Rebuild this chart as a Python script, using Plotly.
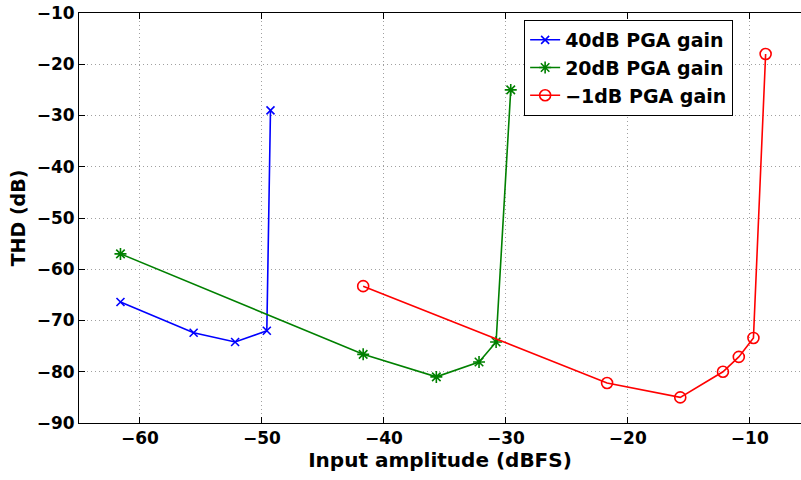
import plotly.graph_objects as go

# THD versus input amplitude for three PGA gain settings
amp_40db = [-61.6, -55.6, -52.2, -49.6, -49.3]
thd_40db = [-66.4, -72.4, -74.2, -72.0, -29.0]

amp_20db = [-61.6, -41.7, -35.7, -32.2, -30.8, -29.6]
thd_20db = [-57.0, -76.6, -81.0, -78.1, -74.2, -25.0]

amp_m1db = [-41.7, -21.7, -15.7, -12.2, -10.9, -9.7, -8.7]
thd_m1db = [-63.3, -82.2, -85.0, -80.0, -77.1, -73.4, -18.0]

x_ticks = [-60, -50, -40, -30, -20, -10]
y_ticks = [-90, -80, -70, -60, -50, -40, -30, -20, -10]

FONT = "DejaVu Sans"

fig = go.Figure()
fig.add_trace(go.Scatter(
    x=amp_40db, y=thd_40db, mode="lines+markers", name="40dB PGA gain",
    legendgroup="a",
    line=dict(color="#0000ff", width=1.6),
    marker=dict(symbol="x-thin-open", size=8, line=dict(color="#0000ff", width=1.6)),
))
fig.add_trace(go.Scatter(
    x=amp_20db, y=thd_20db, mode="lines+markers", name="20dB PGA gain",
    legendgroup="b",
    line=dict(color="#008000", width=1.6),
    marker=dict(symbol="asterisk-open", size=10, line=dict(color="#008000", width=1.6)),
))
fig.add_trace(go.Scatter(
    x=amp_m1db, y=thd_m1db, mode="lines+markers", name="\u22121dB PGA gain",
    legendgroup="c",
    line=dict(color="#ff0000", width=1.6),
    marker=dict(symbol="circle-open", size=11, color="#ff0000", line=dict(color="#ff0000", width=1.6)),
))

axis_common = dict(
    showline=True, linecolor="black", linewidth=1,
    ticks="inside", ticklen=6, tickcolor="black", tickwidth=1,
    showgrid=True, gridcolor="#a0a0a0", gridwidth=1, griddash="1px,3px",
    zeroline=False,
    tickfont=dict(family=FONT, size=17, color="black", weight="bold"),
)

fig.update_layout(
    width=801, height=480,
    margin=dict(l=79, r=0, t=13, b=57),
    paper_bgcolor="white", plot_bgcolor="white",
    font=dict(family=FONT, color="black"),
    xaxis=dict(
        range=[-65, -5.8], tickvals=x_ticks, mirror="ticks",
        title=dict(text="Input amplitude (dBFS)", standoff=4,
                   font=dict(family=FONT, size=20, color="black", weight="bold")),
        **axis_common,
    ),
    yaxis=dict(
        range=[-90, -10], tickvals=y_ticks,
        title=dict(text="THD (dB)", standoff=6,
                   font=dict(family=FONT, size=19, color="black", weight="bold")),
        **axis_common,
    ),
    legend=dict(
        x=0.906, y=0.983, xanchor="right", yanchor="top",
        bgcolor="white", bordercolor="black", borderwidth=1,
        font=dict(family=FONT, size=19, color="black", weight="bold"),
        tracegroupgap=0, traceorder="grouped", itemwidth=30,
    ),
    showlegend=True,
)

fig.write_html("out.html")
